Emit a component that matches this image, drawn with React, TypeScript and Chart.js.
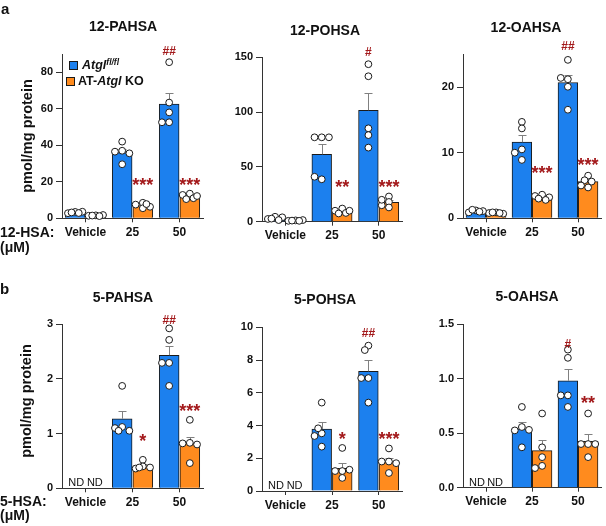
import React, { useEffect, useRef } from 'react';
import { Chart, registerables } from 'chart.js';

Chart.register(...registerables);

const FONT = '"Liberation Sans", Arial, Helvetica, sans-serif';
const BLUE = '#1c80ee';
const ORANGE = '#ff8b1e';
const EDGE = '#1a1a1a';
const AXIS = '#333333';
const ERR = '#808080';
const SIG = '#a3191b';
const PAGE_W = 606;
const PAGE_H = 526;
const YAXIS_W = 40;
const XAXIS_H = 30;

// ---------- data ----------
const CATEGORIES = ['Vehicle', '25', '50'];

// 12-PAHSA
const PAHSA12_BLUE_MEAN = [3.2, 36, 62.5];
const PAHSA12_BLUE_SEM = [0.3, 2.0, 6.0];
const PAHSA12_ORANGE_MEAN = [1.5, 7.0, 12];
const PAHSA12_ORANGE_SEM = [0.1, 0.6, 0.6];
const PAHSA12_BLUE_PTS = [[3.5, 2.8, 3.6, 3.2, 2.9], [42, 37, 36.5, 35.6, 29.6], [85.5, 63.4, 58, 52.6, 52.6]];
const PAHSA12_ORANGE_PTS = [[1.6, 1.4, 1.8, 1.2, 1.5], [8.5, 7.5, 6.3, 5.5, 7.8], [13.5, 12.8, 11, 10.5, 12.2]];
const PAHSA12_BLUE_SIG = ['', '', '##'];
const PAHSA12_BLUE_SIG_AT = [null, null, 92];
const PAHSA12_ORANGE_SIG = ['', '***', '***'];
const PAHSA12_ORANGE_SIG_AT = [null, 20, 20];

// 12-POHSA
const POHSA12_BLUE_MEAN = [3, 61.5, 101.7];
const POHSA12_BLUE_SEM = [0.7, 9.5, 15.5];
const POHSA12_ORANGE_MEAN = [1, 9.4, 17.7];
const POHSA12_ORANGE_SEM = [0.2, 1.0, 2.0];
const POHSA12_BLUE_PTS = [[4.5, 2.5, 4, 1.5, 2.8], [77, 77, 77, 38.7, 41], [143.7, 132.7, 85.2, 79, 67.6]];
const POHSA12_ORANGE_PTS = [[1.2, 0.8, 1.5, 1, 0.8], [12, 10, 8, 7.5, 10], [23, 18, 15, 20, 13]];
const POHSA12_BLUE_SIG = ['', '', '#'];
const POHSA12_BLUE_SIG_AT = [null, null, 155];
const POHSA12_ORANGE_SIG = ['', '**', '***'];
const POHSA12_ORANGE_SIG_AT = [null, 35, 35];

// 12-OAHSA
const OAHSA12_BLUE_MEAN = [1.1, 11.6, 20.7];
const OAHSA12_BLUE_SEM = [0.1, 1.1, 1.2];
const OAHSA12_ORANGE_MEAN = [0.8, 3.2, 5.6];
const OAHSA12_ORANGE_SEM = [0.05, 0.15, 0.3];
const OAHSA12_BLUE_PTS = [[1.2, 0.9, 1.1, 1.3, 1.0], [14.7, 13.7, 10.5, 10, 8.9], [24.15, 21.2, 21.4, 20.05, 16.55]];
const OAHSA12_ORANGE_PTS = [[0.9, 0.8, 0.7, 0.9, 0.8], [3.6, 3.4, 3.2, 3.0, 2.8], [6.5, 5.8, 5.6, 5.0, 4.7]];
const OAHSA12_BLUE_SIG = ['', '', '##'];
const OAHSA12_BLUE_SIG_AT = [null, null, 26.3];
const OAHSA12_ORANGE_SIG = ['', '***', '***'];
const OAHSA12_ORANGE_SIG_AT = [null, 7.4, 8.7];

// 5-PAHSA
const PAHSA5_BLUE_MEAN = [null, 1.27, 2.43];
const PAHSA5_BLUE_SEM = [null, 0.15, 0.17];
const PAHSA5_ORANGE_MEAN = [null, 0.41, 0.82];
const PAHSA5_ORANGE_SEM = [null, 0.03, 0.12];
const PAHSA5_BLUE_PTS = [[], [1.87, 1.12, 1.1, 1.05, 1.05], [2.92, 2.71, 2.29, 2.29, 1.87]];
const PAHSA5_ORANGE_PTS = [[], [0.52, 0.4, 0.36, 0.38, 0.38], [1.25, 0.83, 0.82, 0.8, 0.46]];
const PAHSA5_BLUE_SIG = ['', '', '##'];
const PAHSA5_BLUE_SIG_AT = [null, null, 3.08];
const PAHSA5_ORANGE_SIG = ['', '*', '***'];
const PAHSA5_ORANGE_SIG_AT = [null, 0.92, 1.47];

// 5-POHSA
const POHSA5_BLUE_MEAN = [null, 3.78, 7.31];
const POHSA5_BLUE_SEM = [null, 0.45, 0.68];
const POHSA5_ORANGE_MEAN = [null, 1.38, 1.79];
const POHSA5_ORANGE_SEM = [null, 0.33, 0.25];
const POHSA5_BLUE_PTS = [[], [5.4, 3.52, 3.83, 3.36, 2.71], [8.88, 8.61, 6.9, 6.9, 5.4]];
const POHSA5_ORANGE_PTS = [[], [2.63, 1.22, 1.22, 1.3, 0.8], [2.6, 1.8, 1.8, 1.7, 1.1]];
const POHSA5_BLUE_SIG = ['', '', '##'];
const POHSA5_BLUE_SIG_AT = [null, null, 9.67];
const POHSA5_ORANGE_SIG = ['', '*', '***'];
const POHSA5_ORANGE_SIG_AT = [null, 3.38, 3.38];

// 5-OAHSA
const OAHSA5_BLUE_MEAN = [null, 0.54, 0.98];
const OAHSA5_BLUE_SEM = [null, 0.06, 0.11];
const OAHSA5_ORANGE_MEAN = [null, 0.34, 0.425];
const OAHSA5_ORANGE_SEM = [null, 0.095, 0.07];
const OAHSA5_BLUE_PTS = [[], [0.74, 0.556, 0.525, 0.53, 0.37], [1.265, 1.19, 0.846, 0.846, 0.74]];
const OAHSA5_ORANGE_PTS = [[], [0.68, 0.37, 0.28, 0.2, 0.18], [0.68, 0.4, 0.4, 0.4, 0.28]];
const OAHSA5_BLUE_SIG = ['', '', '#'];
const OAHSA5_BLUE_SIG_AT = [null, null, 1.32];
const OAHSA5_ORANGE_SIG = ['', '', '**'];
const OAHSA5_ORANGE_SIG_AT = [null, null, 0.81];

// ---------- layout (page pixels of each plot area) ----------
const PANELS: any[] = [
  { title: '12-PAHSA', area: { l: 62, t: 54, r: 203, b: 218.3 }, yMax: 90, step: 20, dec: 0, nd: false,
    bm: PAHSA12_BLUE_MEAN, bs: PAHSA12_BLUE_SEM, om: PAHSA12_ORANGE_MEAN, os: PAHSA12_ORANGE_SEM,
    bp: PAHSA12_BLUE_PTS, op: PAHSA12_ORANGE_PTS, bsig: PAHSA12_BLUE_SIG, bsigAt: PAHSA12_BLUE_SIG_AT,
    osig: PAHSA12_ORANGE_SIG, osigAt: PAHSA12_ORANGE_SIG_AT },
  { title: '12-POHSA', area: { l: 262, t: 57.3, r: 402, b: 221.7 }, yMax: 150, step: 50, dec: 0, nd: false,
    bm: POHSA12_BLUE_MEAN, bs: POHSA12_BLUE_SEM, om: POHSA12_ORANGE_MEAN, os: POHSA12_ORANGE_SEM,
    bp: POHSA12_BLUE_PTS, op: POHSA12_ORANGE_PTS, bsig: POHSA12_BLUE_SIG, bsigAt: POHSA12_BLUE_SIG_AT,
    osig: POHSA12_ORANGE_SIG, osigAt: POHSA12_ORANGE_SIG_AT },
  { title: '12-OAHSA', area: { l: 463, t: 54.3, r: 603, b: 218.3 }, yMax: 25, step: 10, dec: 0, nd: false,
    bm: OAHSA12_BLUE_MEAN, bs: OAHSA12_BLUE_SEM, om: OAHSA12_ORANGE_MEAN, os: OAHSA12_ORANGE_SEM,
    bp: OAHSA12_BLUE_PTS, op: OAHSA12_ORANGE_PTS, bsig: OAHSA12_BLUE_SIG, bsigAt: OAHSA12_BLUE_SIG_AT,
    osig: OAHSA12_ORANGE_SIG, osigAt: OAHSA12_ORANGE_SIG_AT },
  { title: '5-PAHSA', area: { l: 62, t: 324, r: 203, b: 488.3 }, yMax: 3, step: 1, dec: 0, nd: true,
    bm: PAHSA5_BLUE_MEAN, bs: PAHSA5_BLUE_SEM, om: PAHSA5_ORANGE_MEAN, os: PAHSA5_ORANGE_SEM,
    bp: PAHSA5_BLUE_PTS, op: PAHSA5_ORANGE_PTS, bsig: PAHSA5_BLUE_SIG, bsigAt: PAHSA5_BLUE_SIG_AT,
    osig: PAHSA5_ORANGE_SIG, osigAt: PAHSA5_ORANGE_SIG_AT },
  { title: '5-POHSA', area: { l: 262, t: 327.3, r: 402, b: 491 }, yMax: 10, step: 2, dec: 0, nd: true,
    bm: POHSA5_BLUE_MEAN, bs: POHSA5_BLUE_SEM, om: POHSA5_ORANGE_MEAN, os: POHSA5_ORANGE_SEM,
    bp: POHSA5_BLUE_PTS, op: POHSA5_ORANGE_PTS, bsig: POHSA5_BLUE_SIG, bsigAt: POHSA5_BLUE_SIG_AT,
    osig: POHSA5_ORANGE_SIG, osigAt: POHSA5_ORANGE_SIG_AT },
  { title: '5-OAHSA', area: { l: 463, t: 324, r: 603, b: 487.7 }, yMax: 1.5, step: 0.5, dec: 1, nd: true,
    bm: OAHSA5_BLUE_MEAN, bs: OAHSA5_BLUE_SEM, om: OAHSA5_ORANGE_MEAN, os: OAHSA5_ORANGE_SEM,
    bp: OAHSA5_BLUE_PTS, op: OAHSA5_ORANGE_PTS, bsig: OAHSA5_BLUE_SIG, bsigAt: OAHSA5_BLUE_SIG_AT,
    osig: OAHSA5_ORANGE_SIG, osigAt: OAHSA5_ORANGE_SIG_AT },
];

const CAT_PCT = 0.88;
const BAR_PCT = 0.96;
const SLOT = CAT_PCT / 2; // width of one bar slot in category units
const BLUE_OFF = -SLOT / 2;
const ORANGE_OFF = SLOT / 2;
const R = 3.4;

// simple beeswarm to spread overlapping dots horizontally inside the bar (pixel space -> category units)
function swarm(groups: number[][], off: number, catW: number, ppu: number) {
  const out: any[] = [];
  const step = 3.6;
  const minD = 2 * R * 0.8;
  groups.forEach((vals, ci) => {
    const placed: { x: number; y: number }[] = [];
    vals.forEach((v) => {
      const py = v * ppu;
      const cands = [0, -1, 1, -2, 2, 1.5, -1.5].map((k) => k * step);
      let best = 0;
      let bestD = -1;
      for (const cx of cands) {
        const d = placed.length ? Math.min(...placed.map((p) => Math.hypot(p.x - cx, p.y - py))) : Infinity;
        if (d >= minD) { best = cx; bestD = d; break; }
        if (d > bestD) { bestD = d; best = cx; }
      }
      placed.push({ x: best, y: py });
      out.push({ x: ci + off + best / catW, y: v });
    });
  });
  return out;
}

function barData(means: any[], sems: any[], off: number) {
  const out: any[] = [];
  means.forEach((m, i) => {
    if (m == null) return;
    out.push({ x: i + off, y: m, e: sems[i] });
  });
  return out;
}

function inkText(ctx: any, text: string, x: number, y: number) {
  const m = ctx.measureText(text);
  const shift = (m.actualBoundingBoxAscent - m.actualBoundingBoxDescent) / 2;
  ctx.fillText(text, x, y + shift);
}

const errorBarPlugin = {
  id: 'errbars',
  afterDatasetDraw(chart: any, args: any) {
    const ds = chart.data.datasets[args.index];
    if (!ds.hasErrors) return;
    const ys = chart.scales.y;
    const ctx = chart.ctx;
    ctx.save();
    ctx.strokeStyle = ERR;
    ctx.lineWidth = 1;
    args.meta.data.forEach((bar: any, i: number) => {
      const d = ds.data[i];
      if (!d || d.e == null) return;
      const x = Math.round(bar.x) + 0.5;
      const y0 = ys.getPixelForValue(d.y);
      const y1 = Math.round(ys.getPixelForValue(d.y + d.e)) + 0.5;
      ctx.beginPath();
      ctx.moveTo(x, y0);
      ctx.lineTo(x, y1);
      ctx.moveTo(x - 4, y1);
      ctx.lineTo(x + 4, y1);
      ctx.stroke();
    });
    ctx.restore();
  },
};

const annotationPlugin = {
  id: 'annot',
  afterDraw(chart: any) {
    const p = chart.options.plugins.annot;
    if (!p) return;
    const ctx = chart.ctx;
    const xs = chart.scales.x;
    const ys = chart.scales.y;
    ctx.save();
    ctx.textAlign = 'center';
    ctx.textBaseline = 'alphabetic';
    const drawSig = (labels: string[], at: any[], off: number) => {
      labels.forEach((s, i) => {
        if (!s || at[i] == null) return;
        const isStar = s.indexOf('*') >= 0;
        ctx.font = isStar ? `bold 18px ${FONT}` : `bold 12px ${FONT}`;
        ctx.fillStyle = SIG;
        inkText(ctx, s, xs.getPixelForValue(i + off), ys.getPixelForValue(at[i]));
      });
    };
    drawSig(p.bsig, p.bsigAt, BLUE_OFF);
    drawSig(p.osig, p.osigAt, ORANGE_OFF);
    if (p.nd) {
      ctx.font = `11px ${FONT}`;
      ctx.fillStyle = '#111';
      const yb = ys.getPixelForValue(0) - 2;
      ctx.fillText('ND', xs.getPixelForValue(BLUE_OFF) + 1, yb);
      ctx.fillText('ND', xs.getPixelForValue(ORANGE_OFF) - 1, yb);
    }
    ctx.restore();
  },
};

function makeConfig(p: any) {
  const { l, t, r, b } = p.area;
  const catW = (r - l) / 3;
  const ppu = (b - t) / p.yMax;
  const barPx = SLOT * catW * BAR_PCT;
  const tickFont = { family: FONT, size: 11, weight: 'bold' as const };
  const barCommon = {
    type: 'bar', borderColor: EDGE, borderWidth: 1, barThickness: barPx, grouped: false, order: 2, hasErrors: true,
  };
  const ptCommon = {
    type: 'scatter', pointRadius: R, pointBackgroundColor: '#ffffff', pointBorderColor: EDGE,
    pointBorderWidth: 1, order: 0, clip: false, showLine: false,
  };
  return {
    type: 'bar' as const,
    data: {
      datasets: [
        { ...barCommon, data: barData(p.bm, p.bs, BLUE_OFF), backgroundColor: BLUE },
        { ...barCommon, data: barData(p.om, p.os, ORANGE_OFF), backgroundColor: ORANGE },
        { ...ptCommon, data: swarm(p.bp, BLUE_OFF, catW, ppu) },
        { ...ptCommon, data: swarm(p.op, ORANGE_OFF, catW, ppu) },
      ],
    },
    options: {
      responsive: false,
      animation: false,
      events: [],
      layout: { padding: { left: l - YAXIS_W, top: t, right: PAGE_W - r, bottom: PAGE_H - b - XAXIS_H } },
      plugins: {
        legend: { display: false },
        tooltip: { enabled: false },
        title: { display: false },
        annot: { bsig: p.bsig, bsigAt: p.bsigAt, osig: p.osig, osigAt: p.osigAt, nd: p.nd },
      },
      scales: {
        x: {
          type: 'linear',
          min: -0.5,
          max: 2.5,
          offset: false,
          grid: { display: true, drawOnChartArea: false, offset: false, tickLength: 4, color: AXIS, lineWidth: 1 },
          border: { display: true, color: AXIS, width: 1 },
          afterBuildTicks: (s: any) => { s.ticks = CATEGORIES.map((_, i) => ({ value: i })); },
          ticks: {
            font: { family: FONT, size: 12, weight: 'bold' }, color: '#111', padding: 3, maxRotation: 0, autoSkip: false,
            callback: (v: any) => CATEGORIES[Math.round(Number(v))],
          },
          afterFit: (s: any) => { s.height = XAXIS_H; },
        },
        y: {
          type: 'linear',
          min: 0,
          max: p.yMax,
          grid: { display: true, drawOnChartArea: false, tickLength: 6, color: AXIS, lineWidth: 1 },
          border: { display: true, color: AXIS, width: 1 },
          ticks: {
            stepSize: p.step,
            includeBounds: false,
            font: tickFont,
            color: '#111',
            padding: 3,
            callback: (v: any) => Number(v).toFixed(p.dec),
          },
          afterFit: (s: any) => { s.width = YAXIS_W; },
        },
      },
    },
    plugins: [errorBarPlugin, annotationPlugin],
  };
}

function Panel({ p }: { p: any }) {
  const ref = useRef<HTMLCanvasElement | null>(null);
  useEffect(() => {
    if (!ref.current) return;
    const chart = new Chart(ref.current, makeConfig(p) as any);
    return () => chart.destroy();
  }, [p]);
  return (
    <canvas
      ref={ref}
      width={PAGE_W}
      height={PAGE_H}
      style={{ position: 'absolute', left: 0, top: 0, width: PAGE_W, height: PAGE_H }}
    />
  );
}

const TITLE_POS = [
  [123, 26], [325, 30], [526, 27], [123, 297], [325, 299], [527, 296],
];

function Txt({ x, y, children, style, anchor = 'center' }: any) {
  const tx = anchor === 'center' ? '-50%' : '0';
  return (
    <div
      style={{
        position: 'absolute', left: x, top: y, transform: `translate(${tx}, -50%)`, whiteSpace: 'nowrap',
        fontFamily: FONT, fontWeight: 700, color: '#111', lineHeight: 1, ...style,
      }}
    >
      {children}
    </div>
  );
}

function Swatch({ x, y, color }: any) {
  return (
    <div style={{ position: 'absolute', left: x, top: y, width: 7, height: 7, background: color, border: `1px solid ${EDGE}` }} />
  );
}

export default function App() {
  return (
    <div style={{ position: 'absolute', left: 0, top: 0, width: PAGE_W, height: PAGE_H, background: '#fff', overflow: 'hidden' }}>
      {PANELS.map((p, i) => <Panel key={i} p={p} />)}
      {PANELS.map((p, i) => (
        <Txt key={'t' + i} x={TITLE_POS[i][0]} y={TITLE_POS[i][1]} style={{ fontSize: 14 }}>{p.title}</Txt>
      ))}
      <Txt x={1} y={8} anchor="left" style={{ fontSize: 15 }}>a</Txt>
      <Txt x={0} y={288} anchor="left" style={{ fontSize: 15 }}>b</Txt>
      <Txt x={27} y={136} style={{ fontSize: 14.5, transform: 'translate(-50%, -50%) rotate(-90deg)' }}>pmol/mg protein</Txt>
      <Txt x={26} y={401} style={{ fontSize: 14.5, transform: 'translate(-50%, -50%) rotate(-90deg)' }}>pmol/mg protein</Txt>
      <Txt x={0} y={232} anchor="left" style={{ fontSize: 14 }}>12-HSA:</Txt>
      <Txt x={0} y={247} anchor="left" style={{ fontSize: 14 }}>(μM)</Txt>
      <Txt x={0} y={501} anchor="left" style={{ fontSize: 14 }}>5-HSA:</Txt>
      <Txt x={0} y={515} anchor="left" style={{ fontSize: 14 }}>(μM)</Txt>
      <Swatch x={69} y={61} color={BLUE} />
      <Txt x={82} y={65} anchor="left" style={{ fontSize: 12.5, fontStyle: 'italic' }}>
        Atgl<sup style={{ fontSize: 8.5, verticalAlign: 4 }}>fl/fl</sup>
      </Txt>
      <Swatch x={66} y={77} color={ORANGE} />
      <Txt x={78} y={81} anchor="left" style={{ fontSize: 12.5 }}>
        AT-<i>Atgl</i> KO
      </Txt>
    </div>
  );
}
